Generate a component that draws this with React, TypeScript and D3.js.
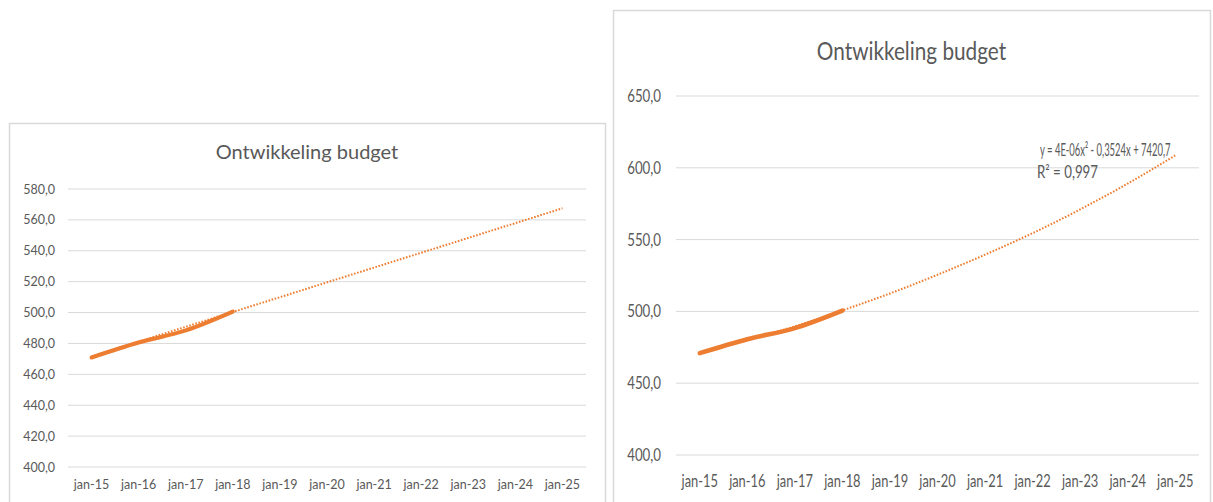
import React from "react";
import * as d3 from "d3";

// categories on the x axis, yearly
const categories = [
  "jan-15", "jan-16", "jan-17", "jan-18", "jan-19", "jan-20",
  "jan-21", "jan-22", "jan-23", "jan-24", "jan-25"
];

// realised budget, jan-15 .. jan-18
const budget = [470.9, 480.6, 488.4, 500.6];

// linear trendline (left chart), read at first and last category
const linearTrend = [471.6, 567.5];

// polynomial trendline (right chart), read at every category
const polyTrend = [471.1, 480.0, 489.6, 500.7, 512.5, 525.5, 539.5, 554.5, 571.0, 589.0, 608.6];

const title = "Ontwikkeling budget";
const equation = "y = 4E-06x² - 0,3524x + 7420,7";
const rSquared = "R² = 0,997";

const orange = "#ED7D31";
const gridColor = "#D9D9D9";
const textGray = "#595959";
const font = "Lato, 'Open Sans', sans-serif";

const fmt = (v: number) => d3.format(".1f")(v).replace(".", ",");

interface Point {
  cat: string;
  value: number;
}

interface PanelProps {
  box: [number, number, number, number];
  xRange: [number, number];
  yRange: [number, number];
  yDomain: [number, number];
  tickCount: number;
  trend: Point[];
  titleY: number;
  titleSize: number;
  titleStretch: number;
  tickSize: number;
  catSize: number;
  stretch: number;
  yLabelX: number;
  yLabelDy: number;
  catY: number;
  lineWidth: number;
  children?: React.ReactNode;
}

const Panel = ({
  box, xRange, yRange, yDomain, tickCount, trend, titleY, titleSize, titleStretch,
  tickSize, catSize, stretch, yLabelX, yLabelDy, catY, lineWidth, children
}: PanelProps) => {
  const [bx, by, bw, bh] = box;
  const x = d3.scaleBand().domain(categories).range(xRange);
  const y = d3.scaleLinear().domain(yDomain).range(yRange);
  const cx = (c: string) => (x(c) as number) + x.bandwidth() / 2;

  const line = d3
    .line<Point>()
    .x(d => cx(d.cat))
    .y(d => y(d.value))
    .curve(d3.curveMonotoneX);

  const actual: Point[] = budget.map((v, i) => ({ cat: categories[i], value: v }));

  return (
    <g fontFamily={font}>
      <rect x={bx + 0.5} y={by + 0.5} width={bw} height={bh} fill="#fff" stroke={gridColor} strokeWidth={1.5} />
      <text
        transform={`translate(${bx + bw / 2},${titleY}) scale(${titleStretch},1)`}
        textAnchor="middle"
        fontSize={titleSize}
        fill={textGray}
      >
        {title}
      </text>

      {/* gridlines + value labels */}
      {y.ticks(tickCount).map(t => (
        <g key={t}>
          <line x1={xRange[0]} x2={xRange[1]} y1={y(t)} y2={y(t)} stroke={gridColor} strokeWidth={1} />
          <text
            transform={`translate(${yLabelX},${y(t) + yLabelDy}) scale(${stretch},1)`}
            textAnchor="end"
            fontSize={tickSize}
            fill={textGray}
          >
            {fmt(t)}
          </text>
        </g>
      ))}

      {categories.map(c => (
        <text
          key={c}
          transform={`translate(${cx(c)},${catY}) scale(${stretch},1)`}
          textAnchor="middle"
          fontSize={catSize}
          fill={textGray}
        >
          {c}
        </text>
      ))}

      {/* trendline under the data */}
      <path
        d={line(trend) || ""}
        fill="none"
        stroke={orange}
        strokeWidth={2}
        strokeDasharray="1.6 1.6"
      />
      <path
        d={line(actual) || ""}
        fill="none"
        stroke={orange}
        strokeWidth={lineWidth}
        strokeLinecap="round"
        strokeLinejoin="round"
      />
      {children}
    </g>
  );
};

const App = () => {
  const leftTrend: Point[] = [
    { cat: categories[0], value: linearTrend[0] },
    { cat: categories[categories.length - 1], value: linearTrend[1] }
  ];
  const rightTrend: Point[] = categories.map((c, i) => ({ cat: c, value: polyTrend[i] }));

  return (
    <svg
      width={1213}
      height={502}
      style={{ position: "absolute", left: 0, top: 0, background: "#fff" }}
    >
      <Panel
        box={[9, 123, 596, 420]}
        xRange={[68, 586]}
        yRange={[467, 189]}
        yDomain={[400, 580]}
        tickCount={10}
        trend={leftTrend}
        titleY={159}
        titleSize={20}
        titleStretch={1}
        tickSize={12.5}
        catSize={12.5}
        stretch={1}
        yLabelX={55}
        yLabelDy={4.5}
        catY={489}
        lineWidth={4}
      />
      <Panel
        box={[613, 10, 597, 540]}
        xRange={[676, 1199]}
        yRange={[455, 96]}
        yDomain={[400, 650]}
        tickCount={5}
        trend={rightTrend}
        titleY={60}
        titleSize={25}
        titleStretch={0.83}
        tickSize={17}
        catSize={16.5}
        stretch={0.78}
        yLabelX={661}
        yLabelDy={6}
        catY={487}
        lineWidth={4.5}
      >
        <g fontFamily={font} fill={textGray}>
          <text transform="translate(1040,156) scale(0.54,1)" fontSize={17.5}>{equation}</text>
          <text transform="translate(1037,178) scale(0.78,1)" fontSize={17}>{rSquared}</text>
        </g>
      </Panel>
    </svg>
  );
};

export default App;
